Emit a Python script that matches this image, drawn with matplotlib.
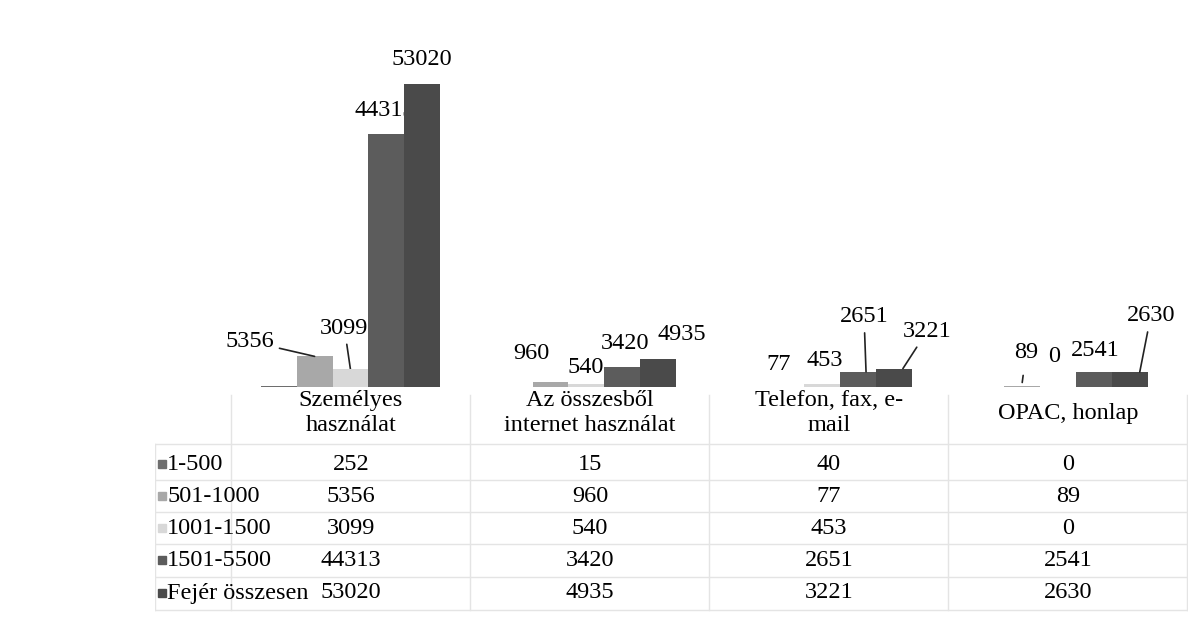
import numpy as np
import matplotlib.pyplot as plt
from matplotlib.patches import Rectangle
from matplotlib.transforms import offset_copy

plt.rcParams['font.family'] = ['Liberation Serif', 'DejaVu Serif']

categories = ["Személyes\nhasználat", "Az összesből\ninternet használat",
              "Telefon, fax, e-\nmail", "OPAC, honlap"]
series = ["1-500", "501-1000", "1001-1500", "1501-5500", "Fejér összesen"]
v_1_500 = [252, 15, 40, 0]
v_501_1000 = [5356, 960, 77, 89]
v_1001_1500 = [3099, 540, 453, 0]
v_1501_5500 = [44313, 3420, 2651, 2541]
v_fejer = [53020, 4935, 3221, 2630]
values = [v_1_500, v_501_1000, v_1001_1500, v_1501_5500, v_fejer]

colors = ["#6e6e6e", "#a8a8a8", "#d8d8d8", "#5c5c5c", "#4a4a4a"]
FS = 17.5

# moved data labels: pixel offset of label from bar top centre,
# plus optional leader line end offset (None = no leader)
# (series, category): (dx, dy, leader_end)
label_pos = {
    (1, 0): (-65, 15, (0, 0)), (1, 1): (-19, 28, None), (1, 2): (-8, 22, None),
    (1, 3): (4, 34, (0, 4)),
    (2, 0): (-6, 41, (0, 0)), (2, 1): (-1, 16, None), (2, 2): (3, 24, None),
    (2, 3): (-4, 30, None),
    (3, 0): (-1, 23, None), (3, 1): (3, 24, None), (3, 2): (6, 55, (8, 0)),
    (3, 3): (1, 22, None),
    (4, 0): (0, 24, None), (4, 1): (24, 24, None), (4, 2): (33, 37, (9, 0)),
    (4, 3): (21, 56, (10, 0)),
}
behind_bars = [(2, 0), (3, 0)]

W, H = 1204, 640
fig = plt.figure(figsize=(W / 100, H / 100), dpi=100)

# --- bars
ax = fig.add_axes([232.5 / W, (H - 387) / H, (1176 - 232.5) / W, 343 / H])
ax.set_xlim(-0.5, 3.5)
ax.set_ylim(0, 60000)
ax.axis('off')

bw = 0.152
x = np.arange(len(categories))
for j, (name, vals) in enumerate(zip(series, values)):
    ax.bar(x + (j - 2) * bw, vals, bw, color=colors[j], zorder=2, label=name)

for (j, i), (dx, dy, lead) in label_pos.items():
    xb = x[i] + (j - 2) * bw
    yb = values[j][i]
    z = 1 if (j, i) in behind_bars else 3
    if lead is None:
        ax.annotate(str(yb), xy=(xb, yb), xytext=(dx, dy),
                    textcoords='offset pixels', ha='center', va='center',
                    fontsize=FS, zorder=z)
    else:
        ex, ey = lead
        tr = offset_copy(ax.transData, fig=fig, x=ex, y=ey, units='dots')
        sa, sb = (7, 0) if (j, i) == (1, 3) else (2, 0)
        ax.annotate(str(yb), xy=(xb, yb), xycoords=tr,
                    xytext=(dx - ex, dy - ey), textcoords='offset pixels',
                    ha='center', va='center', fontsize=FS, zorder=z,
                    arrowprops=dict(arrowstyle='-', color='#222222', lw=1.2,
                                    shrinkA=sa, shrinkB=sb))

# --- data table
tax = fig.add_axes([155 / W, 0, (1187.5 - 155) / W, 1])
tax.set_xlim(-0.82, 3.5)
tax.set_ylim(H, 0)
tax.axis('off')

grid_c = "#e4e4e4"
row_y = [464, 496, 528, 560, 593]
bounds_y = [444, 480, 512, 544, 577, 610]
for yy in bounds_y:
    tax.plot([-0.82, 3.5], [yy, yy], color=grid_c, lw=1)
for xx in [-0.5, 0.5, 1.5, 2.5, 3.5]:
    tax.plot([xx, xx], [395, 610], color=grid_c, lw=1)
tax.plot([-0.82, -0.82], [444, 610], color=grid_c, lw=1)

for i, cat in enumerate(categories):
    tax.text(x[i], 413, cat, ha='center', va='center', fontsize=FS,
             linespacing=1.3)

px = 1 / 239.0
for j, name in enumerate(series):
    yy = row_y[j]
    tax.add_patch(Rectangle((-0.82 + 3 * px, yy - 4), 8 * px, 8,
                            color=colors[j]))
    tax.text(-0.82 + 12 * px, yy, name, ha='left', va='center', fontsize=FS)
    for i in range(len(categories)):
        tax.text(x[i], yy, str(values[j][i]), ha='center', va='center',
                 fontsize=FS)

fig.savefig('out.png', dpi=100)
